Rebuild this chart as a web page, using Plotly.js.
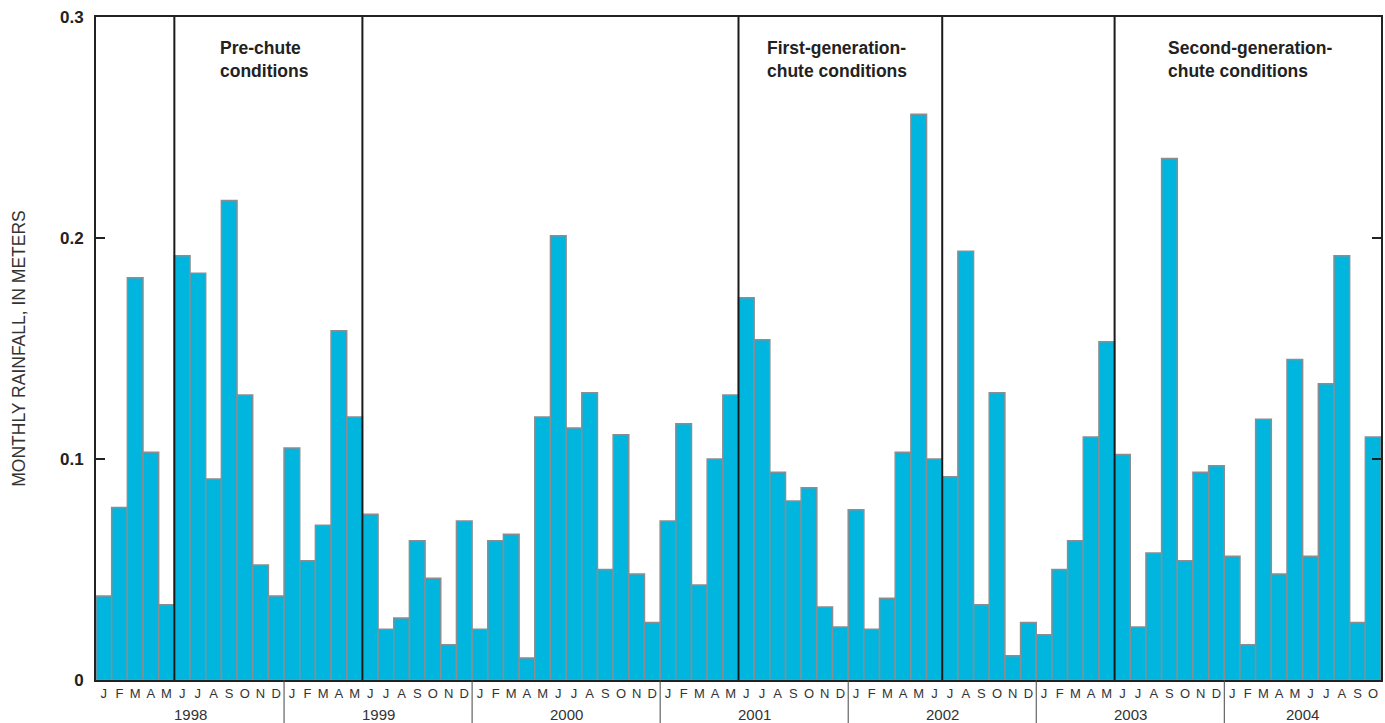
<!DOCTYPE html>
<html>
<head>
<meta charset="utf-8">
<script src="https://cdn.plot.ly/plotly-3.0.1.min.js"></script>
<style>
html,body{margin:0;padding:0;background:#fff;}
#chart{width:1385px;height:723px;}
</style>
</head>
<body>
<div id="chart"></div>
<script>
// Monthly rainfall, meters (January 1998 - October 2004)
const years = ['1998','1999','2000','2001','2002','2003','2004'];
const monthLetters = ['J','F','M','A','M','J','J','A','S','O','N','D'];
const rain1998 = [0.038,0.078,0.182,0.103,0.034,0.192,0.184,0.091,0.217,0.129,0.052,0.038];
const rain1999 = [0.105,0.054,0.070,0.158,0.119,0.075,0.023,0.028,0.063,0.046,0.016,0.072];
const rain2000 = [0.023,0.063,0.066,0.010,0.119,0.201,0.114,0.130,0.050,0.111,0.048,0.026];
const rain2001 = [0.072,0.116,0.043,0.100,0.129,0.173,0.154,0.094,0.081,0.087,0.033,0.024];
const rain2002 = [0.077,0.023,0.037,0.103,0.256,0.100,0.092,0.194,0.034,0.130,0.011,0.026];
const rain2003 = [0.0205,0.050,0.063,0.110,0.153,0.102,0.024,0.0575,0.236,0.054,0.094,0.097];
const rain2004 = [0.056,0.016,0.118,0.048,0.145,0.056,0.134,0.192,0.026,0.110];
const yTickVals = [0,0.1,0.2,0.3];
const yTickText = ['0','0.1','0.2','0.3'];
// Period boundaries: month index where each new condition period starts
const periodStarts = [5,17,41,54,65];
const periodLabels = [
  {text:'Pre-chute<br>conditions', start:5},
  {text:'First-generation-<br>chute conditions', start:41},
  {text:'Second-generation-<br>chute conditions', start:65}
];

const allYears = [rain1998,rain1999,rain2000,rain2001,rain2002,rain2003,rain2004];
const values = [];
const xIdx = [];
const tickText = [];
const yearCenters = [];
let k = 0;
allYears.forEach((arr, yi) => {
  const start = k;
  arr.forEach((v, mi) => {
    values.push(v); xIdx.push(k); tickText.push(monthLetters[mi]); k++;
  });
  yearCenters.push({year: years[yi], x: (start + k - 1) / 2, start: start});
});
const nBars = values.length;

const trace = {
  type:'bar', x:xIdx, y:values, width:1,
  marker:{color:'#00b6de', line:{color:'#8a8e92', width:1.5}},
  hoverinfo:'y'
};

const shapes = [];
periodStarts.forEach(s => {
  shapes.push({type:'line', xref:'x', yref:'paper', x0:s-0.5, x1:s-0.5, y0:0, y1:1,
    line:{color:'#1a1a1a', width:2}, layer:'above'});
});
yearCenters.forEach(yc => {
  if (yc.start > 0) {
    shapes.push({type:'line', xref:'x', yref:'paper', x0:yc.start-0.5, x1:yc.start-0.5, y0:0, y1:-0.066,
      line:{color:'#444', width:1}});
  }
});

const annotations = [];
yearCenters.forEach(yc => {
  annotations.push({xref:'x', yref:'paper', x:yc.x, y:-0.052, text:yc.year, showarrow:false,
    xanchor:'center', yanchor:'middle', font:{family:'Liberation Sans, Arial, sans-serif', size:15, color:'#333'}});
});
const labelLeft = {5:7.3, 41:42.2, 65:67.75};
periodLabels.forEach(p => {
  annotations.push({xref:'x', yref:'paper', x:labelLeft[p.start], y:0.936, text:'<b>'+p.text+'</b>',
    showarrow:false, xanchor:'left', yanchor:'middle', align:'left',
    font:{family:'Liberation Sans, Arial, sans-serif', size:17.5, color:'#222'}});
});

const layout = {
  width:1385, height:723,
  margin:{l:96, r:4, t:17, b:43},
  paper_bgcolor:'#fff', plot_bgcolor:'#fff',
  bargap:0, showlegend:false,
  font:{family:'Liberation Sans, Arial, sans-serif', color:'#333'},
  xaxis:{
    range:[-0.5, nBars-0.5], tickmode:'array', tickvals:xIdx, ticktext:tickText,
    ticks:'', showgrid:false, zeroline:false, showline:true, linecolor:'#222', linewidth:2,
    mirror:true, tickfont:{size:13, color:'#333'}, fixedrange:true
  },
  yaxis:{
    range:[0,0.3], tickmode:'array', tickvals:yTickVals, ticktext:yTickText,
    ticks:'inside', ticklen:9, tickwidth:1.5, tickcolor:'#222',
    showgrid:false, zeroline:false, showline:true, linecolor:'#222', linewidth:2, mirror:'ticks',
    tickfont:{size:17, color:'#222', weight:'bold'}, ticklabelstandoff:7,
    title:{text:'MONTHLY RAINFALL, IN METERS', standoff:30, font:{size:17.5, color:'#333'}},
    fixedrange:true
  },
  shapes:shapes, annotations:annotations
};

Plotly.newPlot('chart', [trace], layout, {displayModeBar:false, staticPlot:true});
</script>
</body>
</html>
